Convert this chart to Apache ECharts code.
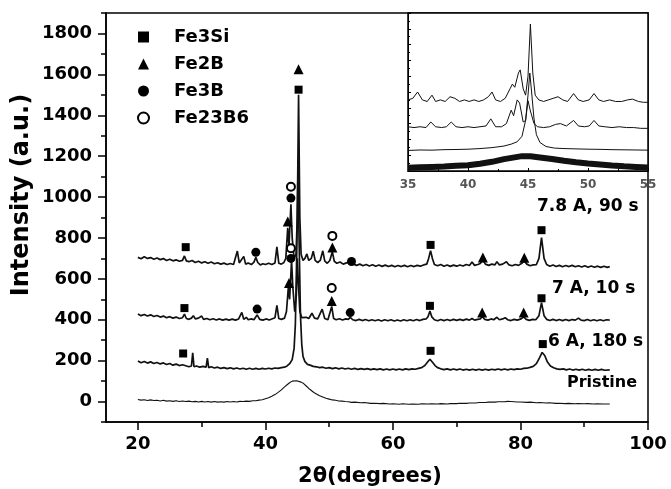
<!DOCTYPE html>
<html lang="en">
<head>
    <meta charset="UTF-8">
    <title>XRD patterns</title>
    <script src="https://cdn.jsdelivr.net/npm/echarts@6/dist/echarts.min.js"></script>
</head>
<body style="margin:0;background:#fff;">
    <div id="dv" style="width:671px;height:489px;"></div>
</body>
<script>
   var dv = document.getElementById("dv")
   var myChart = echarts.init(dv)

   // tick positions
   let xTicks = [20, 40, 60, 80, 100];
   let xMinorTicks = [30, 50, 70, 90];
   let yTicks = [0, 200, 400, 600, 800, 1000, 1200, 1400, 1600, 1800];
   let yMinorTicks = [-100, 100, 300, 500, 700, 900, 1100, 1300, 1500, 1700, 1900];

   // main patterns [2theta, intensity]
   let trace78 = [[20,705],[20.5,698],[21,708],[21.5,700],[22,704],[22.5,696],[23,702],[23.5,694],[24,699],[24.5,690],[25,696],[25.5,688],[26,693],[26.5,686],[27,690],[27.3,712],[27.6,688],[28,684],[28.5,690],[29,680],[29.5,686],[30,678],[30.5,684],[31,676],[31.5,682],[32,674],[32.5,679],[33,672],[33.5,677],[34,670],[34.5,675],[35,670],[35.3,676],[35.6,736],[35.9,678],[36.2,670],[36.6,710],[36.9,672],[37.3,678],[37.8,670],[38.2,682],[38.5,705],[38.8,680],[39.2,668],[39.6,674],[40,670],[40.5,676],[41,670],[41.5,678],[41.8,756],[42.1,676],[42.5,672],[42.9,680],[43.2,700],[43.5,850],[43.7,760],[44.0,965],[44.2,800],[44.5,700],[44.8,720],[45.0,900],[45.2,1500],[45.4,900],[45.6,720],[45.9,690],[46.2,700],[46.5,722],[46.8,690],[47.2,700],[47.5,735],[47.8,690],[48.2,680],[48.6,690],[49.0,737],[49.3,688],[49.7,676],[50.1,690],[50.5,732],[50.8,686],[51.2,676],[51.7,682],[52.2,672],[52.7,678],[53.2,680],[53.5,688],[53.8,672],[54.3,666],[54.8,672],[55.3,664],[55.8,670],[56.3,663],[56.8,669],[57.3,662],[57.8,668],[58.3,661],[58.8,667],[59.3,660],[59.8,666],[60.3,659],[60.8,665],[61.3,660],[61.8,666],[62.3,659],[62.8,665],[63.3,660],[63.8,666],[64.3,662],[64.8,668],[65.3,672],[65.6,700],[65.9,738],[66.2,698],[66.5,670],[67,664],[67.5,670],[68,662],[68.5,668],[69,661],[69.5,667],[70,662],[70.5,668],[71,663],[71.5,670],[72,665],[72.4,682],[72.8,666],[73.3,670],[73.7,675],[74.1,692],[74.5,672],[75,666],[75.5,672],[76,668],[76.3,684],[76.7,668],[77.2,672],[77.8,684],[78.2,668],[78.7,664],[79.2,670],[79.7,666],[80.2,676],[80.6,688],[81,672],[81.5,664],[82,668],[82.5,670],[82.9,700],[83.3,802],[83.7,700],[84.1,670],[84.6,662],[85.1,668],[85.6,660],[86.1,666],[86.6,659],[87.1,665],[87.6,660],[88.1,666],[88.6,659],[89.1,664],[89.6,658],[90.1,664],[90.6,657],[91.1,663],[91.6,657],[92.1,662],[92.6,656],[93.1,662],[93.6,656],[94,660]];

   let trace7 = [[20,428],[20.5,420],[21,426],[21.5,418],[22,424],[22.5,416],[23,421],[23.5,413],[24,418],[24.5,410],[25,415],[25.5,408],[26,413],[26.5,406],[27,410],[27.3,428],[27.6,406],[28,402],[28.4,408],[28.7,420],[29,404],[29.5,408],[30,418],[30.3,402],[30.8,406],[31.3,400],[31.8,405],[32.3,399],[32.8,404],[33.3,398],[33.8,403],[34.3,398],[34.8,403],[35.3,398],[35.8,404],[36.3,436],[36.6,402],[37,412],[37.3,400],[37.8,404],[38.2,400],[38.7,424],[39.1,402],[39.6,398],[40.1,404],[40.6,399],[41.1,405],[41.5,410],[41.8,470],[42.1,406],[42.5,402],[43.0,408],[43.3,440],[43.6,560],[43.8,500],[44.1,690],[44.3,560],[44.6,440],[44.85,520],[45.0,700],[45.2,560],[45.4,440],[45.7,410],[46.0,404],[46.4,412],[46.8,406],[47.3,432],[47.7,408],[48.2,404],[48.9,452],[49.3,406],[49.8,400],[50.1,408],[50.4,465],[50.7,406],[51.1,400],[51.6,405],[52.1,399],[52.6,404],[53.0,402],[53.3,412],[53.7,400],[54.2,396],[54.7,402],[55.2,396],[55.7,401],[56.2,395],[56.7,400],[57.2,395],[57.7,400],[58.2,394],[58.7,400],[59.2,395],[59.7,400],[60.2,394],[60.7,399],[61.2,394],[61.7,400],[62.2,395],[62.7,400],[63.2,395],[63.7,401],[64.2,396],[64.7,402],[65.2,404],[65.5,415],[65.8,443],[66.1,414],[66.5,400],[67,395],[67.5,401],[68,396],[68.5,401],[69,396],[69.5,402],[70,397],[70.5,402],[71,397],[71.5,403],[72,398],[72.4,406],[72.8,398],[73.3,402],[73.7,404],[74.0,416],[74.4,402],[74.9,398],[75.4,404],[75.8,400],[76.3,412],[76.7,400],[77.2,404],[77.6,410],[78,400],[78.5,396],[79,402],[79.5,398],[80.1,404],[80.5,414],[80.9,402],[81.4,397],[81.9,402],[82.4,400],[82.9,420],[83.3,484],[83.7,420],[84.1,402],[84.6,396],[85.1,402],[85.6,396],[86.1,401],[86.6,396],[87.1,401],[87.6,396],[88.1,401],[88.6,398],[89.1,408],[89.5,398],[90,396],[90.5,401],[91,395],[91.5,400],[92,395],[92.5,400],[93,395],[93.5,400],[94,398]];

   let trace6 = [[20,198],[20.5,190],[21,196],[21.5,188],[22,194],[22.5,186],[23,191],[23.5,184],[24,189],[24.5,181],[25,186],[25.5,178],[26,183],[26.5,176],[27,180],[27.2,188],[27.5,175],[28,170],[28.4,174],[28.6,238],[28.8,170],[29.2,174],[29.7,168],[30.2,172],[30.7,168],[30.9,212],[31.1,166],[31.5,170],[32,164],[32.5,168],[33,162],[33.5,166],[34,161],[34.5,165],[35,160],[35.5,164],[36,159],[36.5,163],[37,158],[37.5,163],[38,158],[38.5,162],[39,158],[39.5,162],[40,159],[40.5,163],[41,160],[41.5,164],[42,162],[42.5,166],[43,168],[43.4,174],[43.8,185],[44.2,205],[44.5,260],[44.7,380],[44.9,700],[45.1,1110],[45.3,760],[45.5,420],[45.7,280],[45.9,220],[46.2,195],[46.6,182],[47,178],[47.5,172],[48,170],[48.5,166],[49,168],[49.5,163],[50,166],[50.5,161],[51,165],[51.5,160],[52,164],[52.5,159],[53,163],[53.5,158],[54,162],[54.5,157],[55,161],[55.5,157],[56,161],[56.5,156],[57,160],[57.5,156],[58,160],[58.5,155],[59,159],[59.5,155],[60,159],[60.5,155],[61,159],[61.5,155],[62,160],[62.5,156],[63,160],[63.5,158],[64,162],[64.5,166],[65,176],[65.4,192],[65.8,207],[66.2,192],[66.6,176],[67,166],[67.5,160],[68,156],[68.5,160],[69,155],[69.5,159],[70,155],[70.5,159],[71,154],[71.5,158],[72,154],[72.5,158],[73,154],[73.5,158],[74,154],[74.5,158],[75,154],[75.5,158],[76,155],[76.5,159],[77,155],[77.5,159],[78,155],[78.5,159],[79,156],[79.5,160],[80,158],[80.5,162],[81,163],[81.5,167],[82,172],[82.5,185],[83,215],[83.4,240],[83.8,225],[84.2,195],[84.7,174],[85.2,165],[85.7,160],[86.2,157],[86.7,160],[87.2,155],[87.7,159],[88.2,154],[88.7,158],[89.2,154],[89.7,158],[90.2,153],[90.7,157],[91.2,153],[91.7,157],[92.2,153],[92.7,157],[93.2,153],[94,155]];

   let tracePristine = [[20,10],[20.5,7],[21,9],[21.5,5],[22,8],[22.5,5],[23,6],[23.5,3],[24,6],[24.5,2],[25,4],[25.5,1],[26,4],[26.5,0],[27,3],[27.5,0],[28,2],[28.5,-1],[29,1],[29.5,-2],[30,1],[30.5,-2],[31,0],[31.5,-3],[32,0],[32.5,-3],[33,-1],[33.5,-3],[34,0],[34.5,-2],[35,0],[35.5,-2],[36,1],[36.5,0],[37,2],[37.5,1],[38,4],[38.5,4],[39,7],[39.5,9],[40,14],[40.5,19],[41,26],[41.5,34],[42,45],[42.5,57],[43,72],[43.4,82],[43.8,92],[44.2,100],[44.5,106],[44.9,102],[45.2,104],[45.6,95],[46,88],[46.4,76],[46.8,64],[47.2,54],[47.6,44],[48,37],[48.5,28],[49,22],[49.5,16],[50,12],[50.5,8],[51,6],[51.5,3],[52,2],[52.5,0],[53,-1],[53.5,-4],[54,-3],[55,-6],[55.5,-5],[56.5,-9],[57,-8],[58,-10],[58.5,-9],[59.5,-12],[60,-11],[61,-13],[61.5,-11],[62.5,-13],[63,-12],[64,-13],[64.5,-11],[65.5,-12],[66,-11],[67,-12],[67.5,-10],[68.5,-12],[69,-10],[70,-10],[70.5,-8],[71.5,-9],[72,-7],[73,-7],[73.5,-5],[74.5,-5],[75,-3],[76,-3],[76.5,-1],[77.5,-1],[78,1],[78.5,0],[79,-1],[79.5,-2],[80,-2],[81,-4],[81.5,-3],[82.5,-6],[83,-5],[84,-7],[84.5,-6],[85.5,-9],[86,-8],[87,-10],[87.5,-9],[88.5,-11],[89,-10],[90,-11],[90.5,-10],[91.5,-12],[92,-11],[93,-12],[94,-12]];

   // inset patterns (arbitrary units)
   let inset78 = [[35,45],[35.4,46],[35.8,50],[36.2,45],[36.6,44],[37,48],[37.3,44],[37.7,45],[38.1,44],[38.5,47],[38.9,46],[39.3,44],[39.7,45],[40.1,44],[40.5,45],[40.9,44],[41.3,45],[41.7,47],[42.0,50],[42.3,45],[42.7,44],[43.1,46],[43.5,52],[43.7,55],[43.9,53],[44.2,62],[44.35,64],[44.6,52],[44.8,48],[45.0,60],[45.2,93],[45.4,62],[45.6,48],[45.9,45],[46.3,44],[46.7,45],[47.1,46],[47.5,47],[47.9,45],[48.3,44],[48.8,49],[49.2,45],[49.6,44],[50.1,45],[50.5,49],[50.9,45],[51.3,44],[51.8,45],[52.3,44],[52.8,44],[53.3,45],[53.7,45.5],[54.2,44],[54.6,43.5],[55,43.5]];
   let inset7 = [[35,28],[35.5,27.5],[36,28],[36.5,27.5],[36.9,31],[37.3,28],[37.8,27.5],[38.2,28],[38.6,31],[39,28],[39.5,27.5],[40,28],[40.5,27.5],[41,28],[41.5,28.5],[41.9,33],[42.3,28],[42.8,28],[43.2,30],[43.6,38.5],[43.8,35],[44.1,45],[44.3,43],[44.6,31],[44.8,32],[45.0,44.5],[45.2,38],[45.5,30],[45.8,28],[46.3,27.5],[46.8,28],[47.3,29.5],[47.7,30],[48.2,28.5],[48.8,32],[49.2,28.5],[49.7,28],[50.1,28.5],[50.5,32],[50.9,28.5],[51.4,28],[52,27.5],[52.6,28],[53.2,27.5],[53.8,27.5],[54.4,27],[55,27]];
   let inset6 = [[35,13],[36,13.3],[37,13.2],[38,13.5],[39,13.6],[40,13.8],[41,14.2],[42,14.8],[43,15.8],[43.6,17],[44.1,18.5],[44.5,22],[44.8,32],[45.0,48],[45.15,62],[45.3,50],[45.5,33],[45.7,23],[46,18],[46.5,15.5],[47.2,14.5],[48,14.2],[49,14],[50,13.8],[51,13.7],[52,13.5],[53,13.4],[54,13.3],[55,13.2]];
   let insetPristine = [[35,2],[36,2.3],[37,2.6],[38,2.9],[39,3.3],[40,3.6],[41,4.6],[42,5.8],[43,7.5],[44,8.8],[44.5,9.4],[45.2,9.3],[46,8.6],[47,7.6],[48,6.5],[49,5.5],[50,4.7],[51,4.1],[52,3.5],[53,3],[54,2.6],[55,2.2]];

   // phase markers [2theta, intensity]
   let fe3si = [[27.5,755],[27.3,457],[27.1,235],[45.2,1525],[65.9,766],[65.8,468],[65.9,248],[83.3,838],[83.3,505],[83.5,281]];
   let fe2b = [[45.2,1625],[43.5,880],[43.7,580],[50.5,753],[50.4,492],[74.1,704],[74.0,435],[80.6,703],[80.5,435]];
   let fe3b = [[38.5,730],[38.7,452],[44.0,995],[44.0,700],[53.5,685],[53.3,435]];
   let fe23b6 = [[44.0,1050],[44.0,750],[50.5,810],[50.4,555]];

   let font = 'DejaVu Sans';
   let lineW = 1.7;

   function trace(data, xi, yi, w) {
       return {
           type: 'line', data: data, xAxisIndex: xi, yAxisIndex: yi,
           symbol: 'none', silent: true,
           lineStyle: {color: '#111', width: w},
           z: 10
       };
   }
   function marks(name, data, symbol, size) {
       return {
           name: name, type: 'scatter', data: data, symbol: symbol, symbolSize: size,
           xAxisIndex: 0, yAxisIndex: 0,
           itemStyle: {color: '#000', borderColor: '#000', borderWidth: symbol == 'emptyCircle' ? 1 : 0, opacity: 1},
           z: 12
       };
   }

   option = {
       backgroundColor: '#fff',
       animation: false,
       legend: {
           orient: 'vertical',
           left: 132,
           top: 22,
           itemWidth: 11,
           itemHeight: 11,
           itemGap: 7,
           selectedMode: false,
           textStyle: {fontFamily: font, fontWeight: 'bold', fontSize: 18, color: '#000', lineHeight: 20, padding: [0, 0, 0, 20]},
           data: [
               {name: 'Fe3Si', icon: 'rect'},
               {name: 'Fe2B', icon: 'triangle'},
               {name: 'Fe3B', icon: 'circle'},
               {name: 'Fe23B6', icon: 'emptyCircle'}
           ]
       },
       grid: [
           {left: 106, top: 13, width: 542, height: 409, show: true, borderColor: '#000', borderWidth: 1.5},
           {left: 408, top: 13, width: 240, height: 158, show: true, borderColor: '#000', borderWidth: 1.5, backgroundColor: '#fff'}
       ],
       xAxis: [
           {
               type: 'value', gridIndex: 0, min: 15, max: 100,
               axisLine: {onZero: false, lineStyle: {color: '#000', width: 1.5}},
               axisTick: {customValues: xTicks, length: 8, inside: false, lineStyle: {width: 1.5}},
               axisLabel: {customValues: xTicks, margin: 13, color: '#000', fontFamily: font, fontWeight: 'bold', fontSize: 18},
               splitLine: {show: false}
           },
           {
               type: 'value', gridIndex: 0, min: 15, max: 100, position: 'bottom',
               axisLine: {show: false, onZero: false},
               axisTick: {customValues: xMinorTicks, length: 5, lineStyle: {width: 1.5, color: '#000'}},
               axisLabel: {show: false},
               splitLine: {show: false}
           },
           {
               type: 'value', gridIndex: 1, min: 35, max: 55, interval: 5,
               axisLine: {onZero: false, lineStyle: {color: '#000', width: 1}},
               axisTick: {inside: true, length: 3, lineStyle: {color: '#000'}},
               minorTick: {show: true, splitNumber: 2, length: 2, lineStyle: {color: '#000'}},
               axisLabel: {margin: 8, color: '#555', fontFamily: font, fontWeight: 'bold', fontSize: 12},
               splitLine: {show: false}
           }
       ],
       yAxis: [
           {
               type: 'value', gridIndex: 0, min: -100, max: 1900,
               axisLine: {show: true, onZero: false, lineStyle: {color: '#000', width: 1.5}},
               axisTick: {show: true, customValues: yTicks, length: 8, lineStyle: {width: 1.5}},
               axisLabel: {customValues: yTicks, formatter: function (v) { return String(v); }, margin: 14, color: '#000', fontFamily: font, fontWeight: 'bold', fontSize: 18},
               splitLine: {show: false}
           },
           {
               type: 'value', gridIndex: 0, min: -100, max: 1900, position: 'left',
               axisLine: {show: false, onZero: false},
               axisTick: {show: true, customValues: yMinorTicks, length: 5, lineStyle: {width: 1.5, color: '#000'}},
               axisLabel: {show: false},
               splitLine: {show: false}
           },
           {
               type: 'value', gridIndex: 1, min: 0, max: 100, interval: 10,
               axisLine: {show: true, onZero: false, lineStyle: {color: '#000', width: 1}},
               axisTick: {show: true, inside: true, length: 3, lineStyle: {color: '#000'}},
               minorTick: {show: true, splitNumber: 2, length: 2, lineStyle: {color: '#000'}},
               axisLabel: {show: false},
               splitLine: {show: false}
           }
       ],
       graphic: [
           {type: 'text', x: 370, y: 477, style: {text: '2θ(degrees)', font: 'bold 21px "DejaVu Sans"', fill: '#000', align: 'center', verticalAlign: 'middle'}},
           {type: 'text', x: 22, y: 195, rotation: Math.PI / 2, style: {text: 'Intensity (a.u.)', font: 'bold 24px "DejaVu Sans"', fill: '#000', align: 'center', verticalAlign: 'middle'}},
           {type: 'text', x: 537, y: 207, style: {text: '7.8 A, 90 s', font: 'bold 17px "DejaVu Sans"', fill: '#000', verticalAlign: 'middle'}},
           {type: 'text', x: 552, y: 289, style: {text: '7 A, 10 s', font: 'bold 17px "DejaVu Sans"', fill: '#000', verticalAlign: 'middle'}},
           {type: 'text', x: 548, y: 342, style: {text: '6 A, 180 s', font: 'bold 17px "DejaVu Sans"', fill: '#000', verticalAlign: 'middle'}},
           {type: 'text', x: 567, y: 383, style: {text: 'Pristine', font: 'bold 16px "DejaVu Sans"', fill: '#000', verticalAlign: 'middle'}}
       ],
       series: [
           trace(trace78, 0, 0, lineW),
           trace(trace7, 0, 0, lineW),
           trace(trace6, 0, 0, lineW),
           trace(tracePristine, 0, 0, 1.1),
           marks('Fe3Si', fe3si, 'rect', 8),
           marks('Fe2B', fe2b, 'triangle', 10),
           marks('Fe3B', fe3b, 'circle', 9),
           marks('Fe23B6', fe23b6, 'emptyCircle', 8),
           trace(inset78, 2, 2, 1),
           trace(inset7, 2, 2, 1),
           trace(inset6, 2, 2, 1),
           trace(insetPristine, 2, 2, 6)
       ]
   }
   myChart.setOption(option)
</script>
</html>
